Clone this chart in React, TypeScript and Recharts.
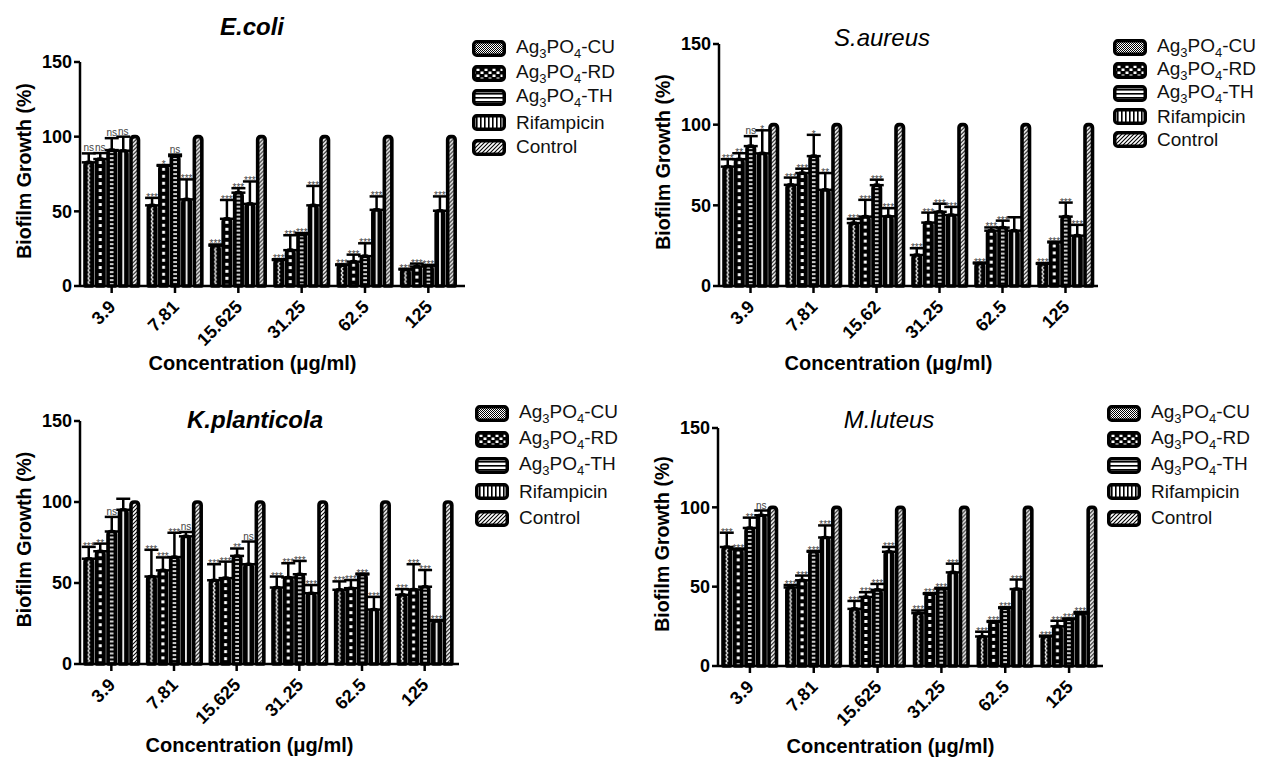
import React from "react";
import { BarChart, Bar, XAxis, YAxis, ErrorBar, LabelList, Legend } from "recharts";

const seriesNames = ["Ag3PO4-CU", "Ag3PO4-RD", "Ag3PO4-TH", "Rifampicin", "Control"];
const concLabels = ["3.9", "7.81", "15.625", "31.25", "62.5", "125"];
const concLabelsSa = ["3.9", "7.81", "15.62", "31.25", "62.5", "125"];
const yTicks = [0, 50, 100, 150];
const controlMean = [100, 100, 100, 100, 100, 100];

// rows: CU, RD, TH, Rifampicin
const ecoliMean = [
  [82.8, 54, 27, 17.4, 14, 11],
  [85, 80.5, 45, 24, 16.3, 13],
  [91, 87, 62.5, 34.6, 20, 13.6],
  [90.6, 58, 55, 54, 51, 50.4],
];
const ecoliErr = [
  [6, 5, 0.8, 0.5, 0.5, 0.5],
  [4, 0.5, 12.6, 10, 4.7, 2],
  [8, 1, 3, 0.8, 8.6, 0.5],
  [9.4, 13.4, 15, 13, 9, 9.6],
];
const ecoliSig = [
  ["ns", "***", "***", "***", "***", "***"],
  ["ns", "*", "***", "***", "***", "***"],
  ["ns", "ns", "***", "***", "***", "***"],
  ["ns", "***", "***", "***", "***", "***"],
];

const saMean = [
  [74, 62.7, 39, 19.2, 14, 13.7],
  [78.6, 70, 43, 39.3, 34.3, 27],
  [86.7, 80.5, 62.5, 46, 36.2, 43],
  [82.2, 59.6, 43.2, 44, 34.3, 31.2],
];
const saErr = [
  [4.6, 4.5, 2.6, 4.2, 0.5, 0.5],
  [3.7, 2.7, 10.4, 6.2, 2, 0.5],
  [6.2, 13.2, 3.4, 5, 4.3, 8.7],
  [14.3, 10.4, 5, 5, 8.3, 6.7],
];
const saSig = [
  ["***", "***", "***", "***", "***", "***"],
  ["**", "***", "***", "***", "***", "***"],
  ["ns", "*", "***", "***", "***", "***"],
  ["*", "**", "***", "***", "", "***"],
];

const kpMean = [
  [65, 54, 51.7, 47.2, 45.8, 42.7],
  [69.6, 57.8, 53, 53.4, 46.8, 46],
  [81.8, 66, 66.7, 55.4, 55.3, 47.7],
  [95.2, 78.8, 61.6, 43.7, 33.6, 26.6],
];
const kpErr = [
  [7.3, 16.5, 9.9, 6.8, 5.2, 3.5],
  [4.7, 8, 10.2, 8.8, 5, 15.6],
  [9, 15, 4.6, 8.2, 0.5, 10.3],
  [6.8, 2.7, 14, 5, 7.8, 0.5],
];
const kpSig = [
  ["***", "***", "***", "***", "***", "***"],
  ["**", "***", "***", "***", "***", "***"],
  ["ns", "***", "**", "***", "***", "***"],
  ["", "ns", "ns", "***", "***", "***"],
];

const mlMean = [
  [75, 49.5, 36, 33.3, 18.6, 18.6],
  [73.5, 54, 43.5, 45.4, 27.8, 25],
  [87, 72, 48, 48.7, 36.5, 29.5],
  [95, 81, 72, 59, 48.5, 33],
];
const mlErr = [
  [9, 1.5, 5, 1.7, 3, 0.5],
  [0.5, 3, 3, 0.5, 0.5, 3.5],
  [6.5, 0.5, 3.7, 0.5, 0.5, 0.5],
  [3, 7.6, 3, 5.5, 6, 1],
];
const mlSig = [
  ["***", "***", "***", "***", "***", "***"],
  ["***", "***", "***", "***", "***", "***"],
  ["**", "***", "***", "***", "***", "***"],
  ["ns", "***", "***", "***", "***", "***"],
];

const barPatterns = ["barCU", "barRD", "barTH", "barRif", "barCtrl"];
const legPatterns = ["legCU", "legRD", "legTH", "legRif", "legCtrl"];
const axisStroke = { stroke: "#000", strokeWidth: 2.5 };

function buildRows(labels: string[], mean: number[][], err: number[][], sig: string[][]) {
  return labels.map((c, i) => {
    const row: any = { conc: c, s4: controlMean[i] };
    for (let k = 0; k < 4; k++) {
      row[`s${k}`] = mean[k][i];
      row[`e${k}`] = [0, err[k][i]];
      row[`g${k}`] = `${sig[k][i]}|${err[k][i]}|${mean[k][i]}`;
    }
    return row;
  });
}

const PatternBar = (props: any) => {
  const { x, y, width, height, patternId } = props;
  if (!height || height <= 0) return null;
  const r = Math.min(3, width / 2);
  const d = `M0,${height} L0,${r} Q0,0 ${r},0 L${width - r},0 Q${width},0 ${width},${r} L${width},${height} Z`;
  return (
    <g transform={`translate(${x},${y})`}>
      <path d={d} fill={`url(#${patternId})`} stroke="#000" strokeWidth={3.6} strokeLinejoin="round" />
    </g>
  );
};

const SigLabel = (props: any) => {
  const vb = props.viewBox || props;
  const [sig, err, mean] = String(props.value ?? "").split("|");
  if (!sig) return null;
  const h = Math.abs(vb.height);
  const top = Math.min(vb.y, vb.y + vb.height) - (Number(err) * h) / Number(mean);
  const star = sig.startsWith("*");
  return (
    <text x={vb.x + vb.width / 2} y={star ? top + 3 : top - 2} textAnchor="middle" fontSize={10} fill="#444">
      {sig}
    </text>
  );
};

const RotTick = (props: any) => {
  const { x, y, payload } = props;
  const ax = x + 5;
  const ay = y + 13;
  return (
    <text x={ax} y={ay} transform={`rotate(-45, ${ax}, ${ay})`} textAnchor="end" fontSize={18} fontWeight={700} fill="#000">
      {payload.value}
    </text>
  );
};

const XTitle = (props: any) => {
  const vb = props.viewBox;
  return (
    <text x={vb.x + vb.width / 2 - 20} y={vb.y + props.dy} textAnchor="middle" fontSize={20} fontWeight={700} fill="#000">
      Concentration (μg/ml)
    </text>
  );
};

const YTitle = (props: any) => {
  const vb = props.viewBox;
  const cx = vb.x + vb.width - 56;
  const cy = vb.y + vb.height / 2 - 3;
  return (
    <text x={cx} y={cy} transform={`rotate(-90, ${cx}, ${cy})`} textAnchor="middle" dominantBaseline="central" fontSize={19.5} fontWeight={700} fill="#000">
      Biofilm Growth (%)
    </text>
  );
};

const seriesLabel = (name: string) => {
  if (name.startsWith("Ag3PO4")) {
    const sub = { fontSize: 13, verticalAlign: "-5px" } as React.CSSProperties;
    return (
      <span>
        Ag<span style={sub}>3</span>PO<span style={sub}>4</span>
        {name.slice(6)}
      </span>
    );
  }
  return <span>{name}</span>;
};

const LegendBox = ({ rowH }: { rowH: number }) => (
  <div style={{ fontSize: 19, color: "#111", fontFamily: "'Liberation Sans', Arial, sans-serif" }}>
    {seriesNames.map((name, i) => (
      <div key={name} style={{ display: "flex", alignItems: "center", height: rowH, whiteSpace: "nowrap" }}>
        <svg width={34} height={17} style={{ marginRight: 10, flex: "none" }}>
          <rect x={1.75} y={1.75} width={30.5} height={13.5} rx={3} fill={`url(#${legPatterns[i]})`} stroke="#000" strokeWidth={3.5} />
        </svg>
        {seriesLabel(name)}
      </div>
    ))}
  </div>
);

type PanelProps = {
  left: number;
  top: number;
  width: number;
  height: number;
  margin: { top: number; right: number; bottom: number; left: number };
  xPad: number;
  xTitleDy: number;
  title: string;
  titleBold: boolean;
  titleX: number;
  titleY: number;
  legendX: number;
  legendY: number;
  rowH: number;
  labels: string[];
  mean: number[][];
  err: number[][];
  sig: string[][];
};

const Panel = (p: PanelProps) => {
  const rows = buildRows(p.labels, p.mean, p.err, p.sig);
  return (
    <div style={{ position: "absolute", left: p.left, top: p.top, width: p.width, height: p.height }}>
      <BarChart width={p.width} height={p.height} data={rows} margin={p.margin} barGap={4}>
        <XAxis
          dataKey="conc"
          interval={0}
          height={62}
          tick={<RotTick />}
          tickSize={7}
          tickLine={axisStroke}
          axisLine={axisStroke}
          padding={{ left: 0, right: p.xPad }}
          label={<XTitle dy={p.xTitleDy} />}
        />
        <YAxis
          domain={[0, 150]}
          ticks={yTicks}
          interval={0}
          width={58}
          tick={{ fontSize: 18, fontWeight: 700, fill: "#000" }}
          tickSize={6}
          tickLine={axisStroke}
          axisLine={axisStroke}
          label={<YTitle />}
        />
        <Legend
          layout="vertical"
          align="center"
          verticalAlign="middle"
          width={170}
          wrapperStyle={{ left: p.legendX, top: p.legendY }}
          content={() => <LegendBox rowH={p.rowH} />}
        />
        {[0, 1, 2, 3].map((k) => (
          <Bar
            key={k}
            dataKey={`s${k}`}
            name={seriesNames[k]}
            barSize={7.5}
            fill="#000"
            isAnimationActive={false}
            shape={(sp: any) => <PatternBar {...sp} patternId={barPatterns[k]} />}
          >
            <ErrorBar dataKey={`e${k}`} direction="y" width={7} stroke="#000" strokeWidth={2.5} isAnimationActive={false} />
            <LabelList dataKey={`g${k}`} content={<SigLabel />} />
          </Bar>
        ))}
        <Bar
          dataKey="s4"
          name={seriesNames[4]}
          barSize={7.5}
          fill="#fff"
          isAnimationActive={false}
          shape={(sp: any) => <PatternBar {...sp} patternId={barPatterns[4]} />}
        />
      </BarChart>
      <div
        style={{
          position: "absolute",
          left: p.titleX,
          top: p.titleY,
          transform: "translate(-50%, -50%)",
          fontSize: 24,
          lineHeight: 1,
          fontStyle: "italic",
          fontWeight: p.titleBold ? 700 : 400,
          whiteSpace: "nowrap",
          color: "#000",
        }}
      >
        {p.title}
      </div>
    </div>
  );
};

const PatternDefs = () => (
  <svg width={0} height={0} style={{ position: "absolute" }}>
    <defs>
      <pattern id="barCU" width="7.5" height="4" patternUnits="userSpaceOnUse">
        <rect width="7.5" height="4" fill="#000" />
        <path d="M2.8,0 L4.7,2 L2.8,4" stroke="#fff" strokeWidth="1.2" fill="none" />
      </pattern>
      <pattern id="barRD" width="7.5" height="7" patternUnits="userSpaceOnUse">
        <rect width="7.5" height="7" fill="#000" />
        <rect x="2.2" y="2" width="3.1" height="3" fill="#fff" />
      </pattern>
      <pattern id="barTH" width="7.5" height="4" patternUnits="userSpaceOnUse">
        <rect width="7.5" height="4" fill="#000" />
        <rect x="1.5" y="1.2" width="4.5" height="1.6" fill="#fff" />
      </pattern>
      <pattern id="barRif" width="7.5" height="4" patternUnits="userSpaceOnUse">
        <rect width="7.5" height="4" fill="#000" />
        <rect x="2.9" y="0" width="1.7" height="4" fill="#fff" />
      </pattern>
      <pattern id="barCtrl" width="4" height="4" patternUnits="userSpaceOnUse">
        <rect width="4" height="4" fill="#fff" />
        <path d="M-1,1 L1,-1 M0,4 L4,0 M3,5 L5,3" stroke="#000" strokeWidth="1.1" />
      </pattern>
      <pattern id="legCU" width="2" height="2" patternUnits="userSpaceOnUse">
        <rect width="2" height="2" fill="#fff" />
        <rect width="1" height="1" fill="#000" />
        <rect x="1" y="1" width="1" height="1" fill="#000" />
      </pattern>
      <pattern id="legRD" width="8" height="6" patternUnits="userSpaceOnUse">
        <rect width="8" height="6" fill="#000" />
        <rect x="0.5" y="0.5" width="3" height="2.5" fill="#fff" />
        <rect x="4.5" y="3.5" width="3" height="2.5" fill="#fff" />
      </pattern>
      <pattern id="legTH" width="4" height="4" patternUnits="userSpaceOnUse">
        <rect width="4" height="4" fill="#fff" />
        <rect width="4" height="1.6" fill="#000" />
      </pattern>
      <pattern id="legRif" width="4" height="4" patternUnits="userSpaceOnUse">
        <rect width="4" height="4" fill="#fff" />
        <rect width="1.6" height="4" fill="#000" />
      </pattern>
      <pattern id="legCtrl" width="4" height="4" patternUnits="userSpaceOnUse">
        <rect width="4" height="4" fill="#fff" />
        <path d="M-1,1 L1,-1 M0,4 L4,0 M3,5 L5,3" stroke="#000" strokeWidth="1.1" />
      </pattern>
    </defs>
  </svg>
);

export default function App() {
  return (
    <div
      style={{
        position: "absolute",
        left: 0,
        top: 0,
        width: 1266,
        height: 758,
        background: "#fff",
        overflow: "hidden",
        fontFamily: "'Liberation Sans', Arial, sans-serif",
      }}
    >
      <PatternDefs />
      <Panel
        left={0} top={0} width={630} height={380}
        margin={{ top: 62, right: 165, bottom: 32, left: 22 }}
        xPad={5} xTitleDy={84}
        title="E.coli" titleBold titleX={252} titleY={27}
        legendX={472} legendY={36} rowH={24.75}
        labels={concLabels} mean={ecoliMean} err={ecoliErr} sig={ecoliSig}
      />
      <Panel
        left={633} top={0} width={633} height={380}
        margin={{ top: 44, right: 168, bottom: 32, left: 28 }}
        xPad={1} xTitleDy={84}
        title="S.aureus" titleBold={false} titleX={249} titleY={37.5}
        legendX={480} legendY={36} rowH={23}
        labels={concLabelsSa} mean={saMean} err={saErr} sig={saSig}
      />
      <Panel
        left={0} top={380} width={630} height={378}
        margin={{ top: 41, right: 171, bottom: 32, left: 22 }}
        xPad={3} xTitleDy={88}
        title="K.planticola" titleBold titleX={255} titleY={40}
        legendX={475} legendY={20} rowH={26.25}
        labels={concLabels} mean={kpMean} err={kpErr} sig={kpSig}
      />
      <Panel
        left={633} top={380} width={633} height={378}
        margin={{ top: 48, right: 163, bottom: 30, left: 27 }}
        xPad={2} xTitleDy={87}
        title="M.luteus" titleBold={false} titleX={256} titleY={40}
        legendX={474} legendY={20} rowH={26.25}
        labels={concLabels} mean={mlMean} err={mlErr} sig={mlSig}
      />
    </div>
  );
}
